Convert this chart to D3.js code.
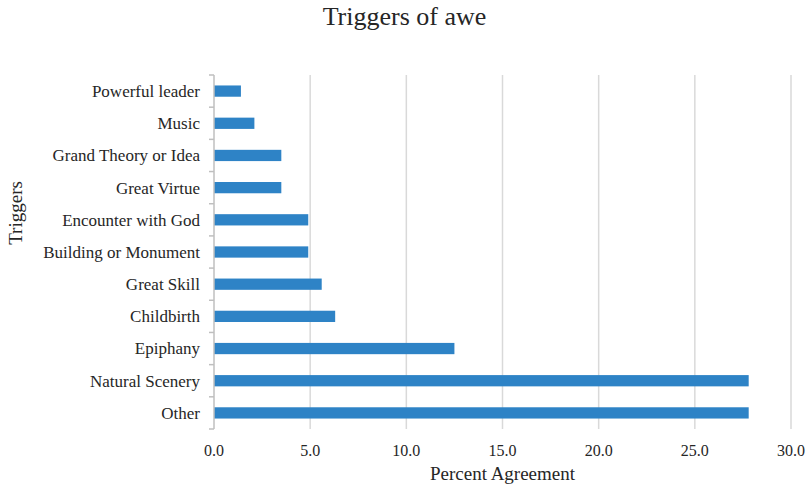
<!DOCTYPE html>
<html>
<head>
<meta charset="utf-8">
<script src="https://cdn.jsdelivr.net/npm/d3@7"></script>
<style>
  body { margin: 0; background: #fff; }
  svg { font-family: "Liberation Serif", "Times New Roman", serif; }
</style>
</head>
<body>
<svg id="chart" width="809" height="489"></svg>
<script>
const categories = ['Powerful leader', 'Music', 'Grand Theory or Idea', 'Great Virtue',
  'Encounter with God', 'Building or Monument', 'Great Skill', 'Childbirth',
  'Epiphany', 'Natural Scenery', 'Other'];
const values = [1.4, 2.1, 3.5, 3.5, 4.9, 4.9, 5.6, 6.3, 12.5, 27.8, 27.8];
const ticks = [0, 5, 10, 15, 20, 25, 30];

const width = 809,
      height = 489,
      margin = { top: 75, right: 18, bottom: 60, left: 214 };

const svg = d3.select('#chart');

const x = d3.scaleLinear()
  .domain([0, 30])
  .range([margin.left, width - margin.right]);

const y = d3.scaleBand()
  .domain(categories)
  .range([margin.top, height - margin.bottom])
  .paddingInner(0.65)
  .paddingOuter(0.325);

const yb = d3.scaleBand()
  .domain(categories)
  .range([margin.top, height - margin.bottom]);

// gridlines
svg.append('g')
  .selectAll('line')
  .data(ticks.filter(t => t > 0))
  .join('line')
  .attr('x1', d => x(d)).attr('x2', d => x(d))
  .attr('y1', margin.top).attr('y2', height - margin.bottom)
  .attr('stroke', '#d9d9d9')
  .attr('stroke-width', 1.5);

// bars
svg.append('g')
  .selectAll('rect')
  .data(values)
  .join('rect')
  .attr('x', x(0))
  .attr('y', (d, i) => y(categories[i]))
  .attr('width', d => x(d) - x(0))
  .attr('height', y.bandwidth())
  .attr('fill', '#2e83c6');

// y axis line with boundary ticks
const yAxis = svg.append('g');
yAxis.append('line')
  .attr('x1', x(0)).attr('x2', x(0))
  .attr('y1', margin.top).attr('y2', height - margin.bottom)
  .attr('stroke', '#bfbfbf').attr('stroke-width', 1.5);
const bounds = categories.map(c => yb(c)).concat([height - margin.bottom]);
yAxis.selectAll('line.tick')
  .data(bounds)
  .join('line')
  .attr('class', 'tick')
  .attr('x1', x(0) - 5).attr('x2', x(0))
  .attr('y1', d => d).attr('y2', d => d)
  .attr('stroke', '#bfbfbf').attr('stroke-width', 1.5);

// category labels
svg.append('g')
  .selectAll('text')
  .data(categories)
  .join('text')
  .attr('x', x(0) - 14)
  .attr('y', d => yb(d) + yb.bandwidth() / 2)
  .attr('dy', '0.35em')
  .attr('text-anchor', 'end')
  .attr('font-size', 17)
  .attr('fill', '#262626')
  .text(d => d);

// x tick labels
svg.append('g')
  .selectAll('text')
  .data(ticks)
  .join('text')
  .attr('x', d => x(d))
  .attr('y', height - margin.bottom + 27)
  .attr('text-anchor', 'middle')
  .attr('font-size', 16)
  .attr('fill', '#262626')
  .text(d => d3.format('.1f')(d));

// axis titles
svg.append('text')
  .attr('x', (x(0) + x(30)) / 2)
  .attr('y', height - 9)
  .attr('text-anchor', 'middle')
  .attr('font-size', 19)
  .attr('fill', '#262626')
  .text('Percent Agreement');

svg.append('text')
  .attr('transform', 'translate(22, 213) rotate(-90)')
  .attr('text-anchor', 'middle')
  .attr('font-size', 19)
  .attr('fill', '#262626')
  .text('Triggers');

// title
svg.append('text')
  .attr('x', width / 2)
  .attr('y', 25)
  .attr('text-anchor', 'middle')
  .attr('font-size', 26)
  .attr('fill', '#262626')
  .text('Triggers of awe');
</script>
</body>
</html>
